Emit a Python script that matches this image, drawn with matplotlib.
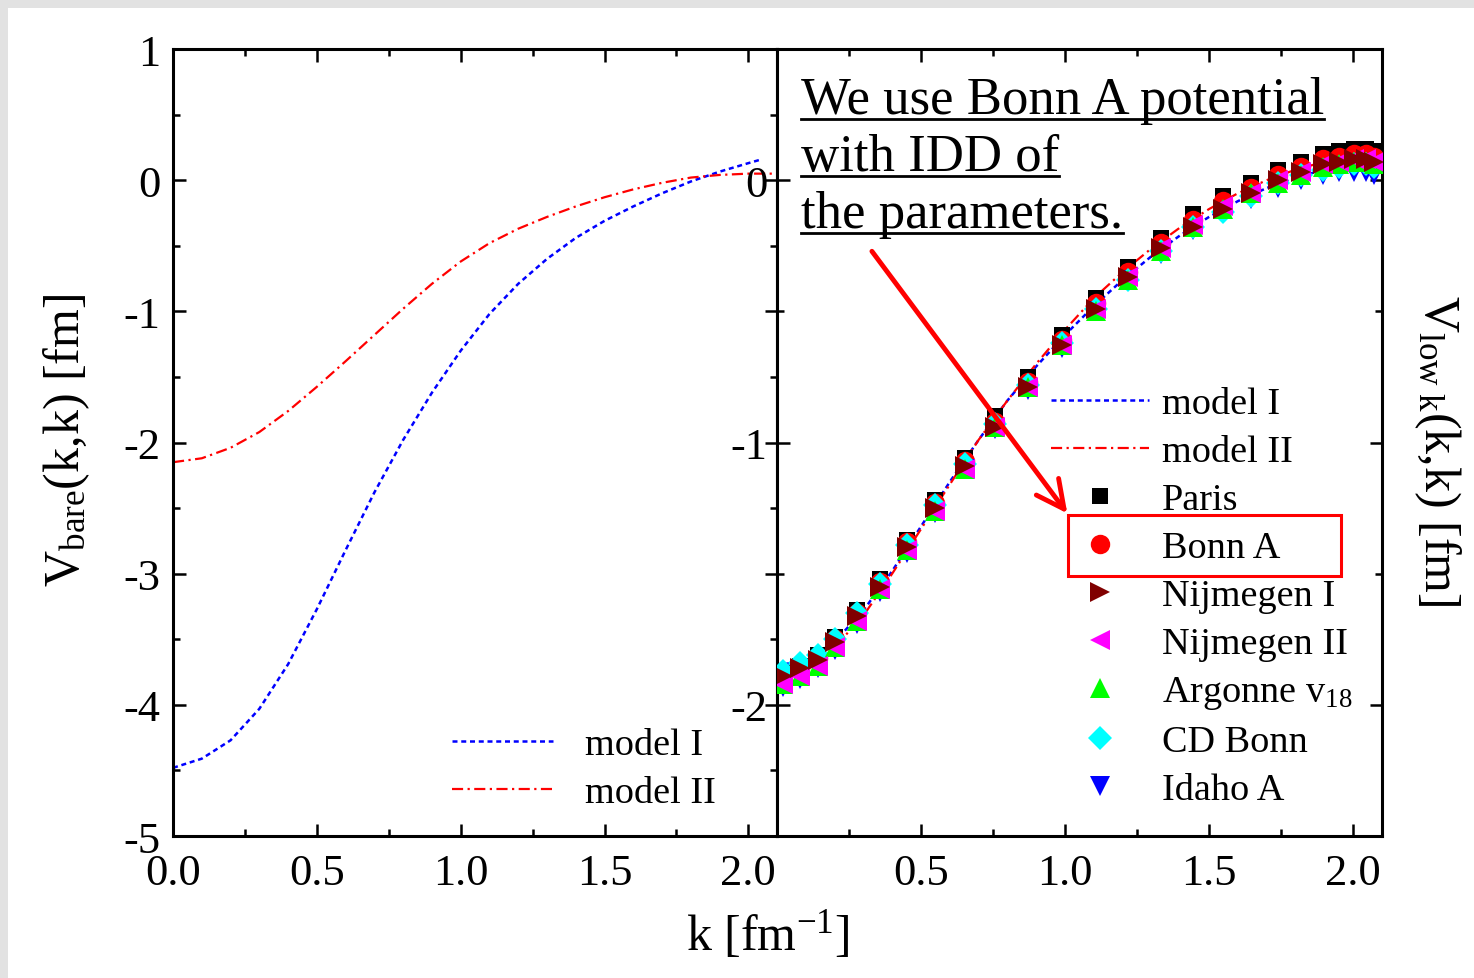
import matplotlib.pyplot as plt
from matplotlib.patches import Rectangle
from matplotlib.lines import Line2D
from matplotlib.ticker import MultipleLocator

plt.rcParams['font.family'] = ['Liberation Serif', 'DejaVu Serif']
plt.rcParams['mathtext.fontset'] = 'custom'
plt.rcParams['mathtext.rm'] = 'Liberation Serif'
plt.rcParams['mathtext.it'] = 'Liberation Serif:italic'
plt.rcParams['mathtext.bf'] = 'Liberation Serif:bold'
plt.rcParams['axes.unicode_minus'] = False

# bare potentials, diagonal elements
k_bare = [0.0, 0.1, 0.2, 0.3, 0.4, 0.5, 0.6, 0.7, 0.8, 0.9, 1.0,
          1.1, 1.2, 1.3, 1.4, 1.5, 1.6, 1.7, 1.8, 1.9, 2.0, 2.04]
v_bare_m1 = [-4.48, -4.41, -4.27, -4.03, -3.69, -3.27, -2.82, -2.38, -1.98, -1.62, -1.30,
             -1.02, -0.79, -0.60, -0.44, -0.31, -0.20, -0.10, -0.01, 0.065, 0.13, 0.155]
k_bare2 = [0.0, 0.1, 0.2, 0.3, 0.4, 0.5, 0.6, 0.7, 0.8, 0.9, 1.0,
           1.1, 1.2, 1.3, 1.4, 1.5, 1.6, 1.7, 1.8, 1.9, 2.0, 2.1]
v_bare_m2 = [-2.15, -2.12, -2.04, -1.92, -1.76, -1.575, -1.38, -1.18, -0.98, -0.79, -0.62,
             -0.48, -0.37, -0.28, -0.20, -0.13, -0.07, -0.02, 0.02, 0.04, 0.05, 0.05]

# V_low k for the two models
k_low = [0.0, 0.1, 0.2, 0.3, 0.4, 0.5, 0.6, 0.7, 0.8, 0.9, 1.0,
         1.1, 1.2, 1.3, 1.4, 1.5, 1.6, 1.7, 1.8, 1.9, 2.0, 2.1]
v_low_m1 = [-1.85, -1.83, -1.76, -1.64, -1.49, -1.32, -1.15, -0.99, -0.84, -0.71, -0.59,
            -0.48, -0.38, -0.29, -0.21, -0.14, -0.08, -0.03, 0.01, 0.04, 0.05, 0.05]
v_low_m2 = [-1.88, -1.86, -1.78, -1.66, -1.50, -1.33, -1.16, -0.99, -0.84, -0.70, -0.57,
            -0.45, -0.35, -0.26, -0.18, -0.11, -0.05, 0.00, 0.04, 0.07, 0.08, 0.08]

# V_low k from realistic NN potentials (momentum mesh)
k_mesh = [0.021, 0.080, 0.143, 0.202, 0.278, 0.358, 0.452, 0.550, 0.654, 0.758, 0.873, 0.991, 1.106,
          1.217, 1.332, 1.443, 1.548, 1.645, 1.739, 1.819, 1.896, 1.951, 2.003, 2.045, 2.073]
v_paris = [-1.88, -1.85, -1.81, -1.74, -1.64, -1.52, -1.37, -1.22, -1.06, -0.90, -0.75, -0.59, -0.45,
           -0.33, -0.22, -0.13, -0.06, -0.01, 0.04, 0.07, 0.10, 0.11, 0.12, 0.12, 0.11]
v_bonna = [-1.89, -1.86, -1.82, -1.75, -1.65, -1.53, -1.38, -1.23, -1.07, -0.92, -0.77, -0.61, -0.47,
           -0.35, -0.24, -0.15, -0.08, -0.03, 0.02, 0.05, 0.08, 0.09, 0.10, 0.10, 0.09]
v_nij1 = [-1.89, -1.86, -1.83, -1.76, -1.66, -1.55, -1.40, -1.25, -1.09, -0.94, -0.79, -0.63, -0.49,
          -0.37, -0.26, -0.18, -0.11, -0.05, 0.00, 0.03, 0.06, 0.07, 0.08, 0.08, 0.07]
v_nij2 = [-1.92, -1.89, -1.85, -1.78, -1.68, -1.56, -1.41, -1.26, -1.10, -0.94, -0.79, -0.63, -0.49,
          -0.37, -0.26, -0.17, -0.10, -0.05, 0.00, 0.03, 0.06, 0.07, 0.08, 0.08, 0.07]
v_av18 = [-1.92, -1.89, -1.85, -1.78, -1.68, -1.56, -1.41, -1.26, -1.10, -0.94, -0.79, -0.63, -0.50,
          -0.38, -0.27, -0.18, -0.11, -0.05, -0.01, 0.02, 0.05, 0.06, 0.07, 0.07, 0.06]
v_cdbonn = [-1.87, -1.84, -1.81, -1.75, -1.65, -1.54, -1.39, -1.24, -1.08, -0.93, -0.78, -0.62, -0.49,
            -0.38, -0.27, -0.18, -0.12, -0.06, -0.01, 0.02, 0.04, 0.05, 0.06, 0.06, 0.05]
v_idaho = [-1.93, -1.90, -1.86, -1.79, -1.69, -1.57, -1.42, -1.27, -1.10, -0.95, -0.80, -0.64, -0.50,
           -0.38, -0.28, -0.19, -0.12, -0.07, -0.03, 0.00, 0.02, 0.03, 0.03, 0.03, 0.02]

fig = plt.figure(figsize=(14.74, 9.79), dpi=100)
fig.patch.set_facecolor('#e2e2e2')
fig.add_artist(Rectangle((8 / 1474, 0), 1, 1 - 9 / 979, transform=fig.transFigure,
                         facecolor='white', edgecolor='none', zorder=-10))

ax1 = fig.add_axes([0.1174, 0.145, 0.4098, 0.8039])
ax2 = fig.add_axes([0.5271, 0.145, 0.4104, 0.8039])

dash_m1 = (2.0, 1.5)
dash_m2 = (5, 2, 1, 2)

ax1.plot(k_bare, v_bare_m1, color='#0000ff', lw=1.8, dashes=dash_m1, label='model I')
ax1.plot(k_bare2, v_bare_m2, color='#ff0000', lw=1.6, dashes=dash_m2, label='model II')

ax2.plot(k_low, v_low_m1, color='#0000ff', lw=1.8, dashes=dash_m1, label='model I', zorder=2)
ax2.plot(k_low, v_low_m2, color='#ff0000', lw=1.6, dashes=dash_m2, label='model II', zorder=2)
ax2.plot(k_mesh, v_paris, 's', color='black', ms=12, mew=0, label='Paris', zorder=3)
ax2.plot(k_mesh, v_bonna, 'o', color='#ff0000', ms=14, mew=0, label='Bonn A', zorder=3.1)
ax2.plot(k_mesh, v_nij1, '>', color='#800000', ms=15, mew=0, label='Nijmegen I', zorder=3.6)
ax2.plot(k_mesh, v_nij2, '<', color='#ff00ff', ms=15, mew=0, label='Nijmegen II', zorder=3.5)
ax2.plot(k_mesh, v_av18, '^', color='#00ff00', ms=15, mew=0, label=r'Argonne v$_{\mathrm{18}}$', zorder=3.4)
ax2.plot(k_mesh, v_cdbonn, 'D', color='#00ffff', ms=12, mew=0, label='CD Bonn', zorder=3.3)
ax2.plot(k_mesh, v_idaho, 'v', color='#0000ff', ms=15, mew=0, label='Idaho A', zorder=3.2)

for ax in (ax1, ax2):
    for s in ax.spines.values():
        s.set_linewidth(2.2)
    ax.tick_params(which='both', direction='in', top=True, right=True, width=1.8,
                   labelsize=32, pad=9)
    ax.tick_params(axis='x', pad=12)
    ax.tick_params(which='major', length=9)
    ax.tick_params(which='minor', length=5)
    ax.set_xlim(0, 2.1)
    ax.xaxis.set_minor_locator(MultipleLocator(0.25))
    ax.yaxis.set_minor_locator(MultipleLocator(0.5))

ax1.set_ylim(-5, 1)
ax1.set_xticks([0, 0.5, 1.0, 1.5, 2.0])
ax1.yaxis.set_major_locator(MultipleLocator(1))

ax2.set_ylim(-2.5, 0.5)
ax2.set_xticks([0.5, 1.0, 1.5, 2.0])
ax2.set_yticks([-2, -1, 0])
ax2.tick_params(axis='y', pad=7)

ax1.legend(loc='center', bbox_to_anchor=(0.68, 0.0857), frameon=False, fontsize=27.5,
           handlelength=2.63, handletextpad=0.84, labelspacing=0.345)
ax2.legend(loc='center', bbox_to_anchor=(0.702, 0.304), frameon=False, fontsize=27.5,
           handlelength=2.58, handletextpad=0.34, labelspacing=0.345, numpoints=1)

fig.text(0.521, 0.045, r'k [fm$^{\mathrm{-1}}$]', fontsize=36, ha='center', va='center')
fig.text(0.045, 0.55, r'V$_{\mathrm{bare}}$(k,k) [fm]', fontsize=36, rotation=90,
         ha='center', va='center')
fig.text(0.975, 0.54, r'V$_{\mathrm{low\ k}}$(k,k) [fm]', fontsize=36, rotation=-90,
         ha='center', va='center')

# highlight box and arrow
ax2.add_patch(Rectangle((0.481, 0.330), 0.451, 0.078, transform=ax2.transAxes,
                        fill=False, edgecolor='#ff0000', lw=2.2, clip_on=False, zorder=5))
ax2.annotate('', xy=(0.480, 0.410), xytext=(0.157, 0.743), xycoords='axes fraction',
             arrowprops=dict(arrowstyle='->,head_length=1.0,head_width=0.5', color='#ff0000',
                             lw=3.5, mutation_scale=20, shrinkA=0, shrinkB=0), zorder=6)

note_lines = ['We use Bonn A potential', 'with IDD of', 'the parameters.']
note_base = [0.9187, 0.846, 0.774]
notes = []
for line, yb in zip(note_lines, note_base):
    notes.append(ax2.text(0.040, yb, line, transform=ax2.transAxes, fontsize=38,
                          ha='left', va='baseline', zorder=6))

fig.canvas.draw()
inv = fig.transFigure.inverted()
for t, yb in zip(notes, note_base):
    bb = t.get_window_extent()
    ypix = ax2.transAxes.transform((0, yb))[1] - 6
    (x0, y0) = inv.transform((bb.x0, ypix))
    (x1, _) = inv.transform((bb.x1, ypix))
    fig.add_artist(Line2D([x0, x1], [y0, y0], color='black', lw=2, zorder=7))

fig.savefig('out.png', dpi=100, facecolor=fig.get_facecolor())
